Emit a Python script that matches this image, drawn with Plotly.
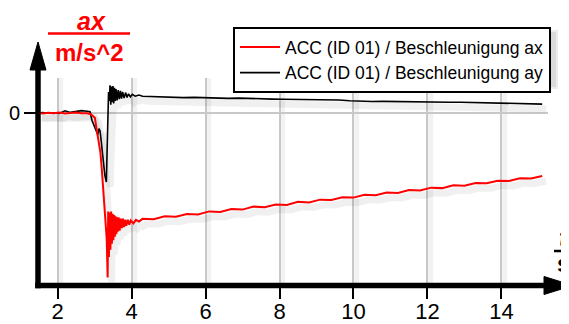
import plotly.graph_objects as go

# ---------------- data ----------------
t_ax = [1.47, 1.6, 1.75, 1.9, 2.05, 2.2, 2.35, 2.5, 2.65, 2.8, 2.9, 2.96, 3.01, 3.07,
        3.12, 3.16, 3.20, 3.24, 3.27, 3.30, 3.33, 3.355, 3.37, 3.39, 3.41, 3.43, 3.45,
        3.47, 3.49, 3.51, 3.53, 3.55, 3.57, 3.59, 3.61, 3.63, 3.65, 3.68, 3.71, 3.74,
        3.77, 3.80, 3.83, 3.86, 3.90, 3.94, 3.98, 4.05, 4.12, 4.2,
        4.3, 4.6, 4.9, 5.2, 5.5, 5.8, 6.1, 6.4, 6.7, 7.0, 7.3, 7.6, 7.9, 8.2, 8.5, 8.8,
        9.1, 9.4, 9.7, 10.0, 10.3, 10.6, 10.9, 11.2, 11.5, 11.8, 12.1, 12.4, 12.7, 13.0,
        13.3, 13.6, 13.9, 14.2, 14.5, 14.8, 15.1]
ax_vals = [0.02, -0.05, 0.03, -0.02, 0.05, -0.04, 0.0, 0.04, -0.03, -0.02, -0.1, -0.25,
           -0.4, -1.6, -2.4, -3.3, -4.8, -6.4, -7.4, -8.5, -10.5, -13.7, -8.2, -12.0, -8.3,
           -11.4, -8.2, -10.9, -8.4, -10.6, -8.5, -10.3, -8.6, -10.1, -8.7, -9.9, -8.7,
           -9.8, -8.8, -9.6, -8.8, -9.5, -8.9, -9.4, -8.9, -9.3, -8.95, -9.2, -8.9, -9.05,
           -8.82, -8.86, -8.60, -8.64, -8.41, -8.45, -8.20, -8.25, -8.00, -8.05, -7.80,
           -7.86, -7.62, -7.66, -7.40, -7.45, -7.22, -7.25, -7.02, -7.05, -6.82, -6.86,
           -6.62, -6.66, -6.42, -6.45, -6.22, -6.26, -6.03, -6.07, -5.83, -5.86, -5.64,
           -5.66, -5.43, -5.46, -5.25]

t_ay = [1.47, 1.6, 1.75, 1.9, 2.05, 2.2, 2.35, 2.5, 2.65, 2.8, 2.88, 2.93, 3.01, 3.06,
        3.09, 3.12, 3.15, 3.18, 3.23, 3.28, 3.32, 3.34, 3.36, 3.38, 3.40, 3.42, 3.44,
        3.46, 3.48, 3.50, 3.52, 3.54, 3.56, 3.58, 3.61, 3.64, 3.67, 3.70, 3.73, 3.76,
        3.80, 3.84, 3.88, 3.92, 3.97, 4.02, 4.1, 4.2, 4.3,
        4.5, 4.8, 5.1, 5.4, 5.7, 6.0, 6.3, 6.6, 6.9, 7.2, 7.5, 7.8, 8.1, 8.4, 8.7, 9.0,
        9.3, 9.6, 9.9, 10.2, 10.5, 10.8, 11.1, 11.4, 11.7, 12.0, 12.3, 12.6, 12.9, 13.2,
        13.5, 13.8, 14.1, 14.4, 14.7, 15.1]
ay_vals = [0.0, 0.03, -0.02, 0.02, -0.03, 0.18, 0.05, 0.12, 0.2, 0.15, 0.1, -0.6, -1.25,
           -1.6, -1.8, -1.3, -1.5, -2.3, -3.9, -5.2, -5.75, -3.0, -0.6, 1.75, 1.0, 2.3,
           0.7, 2.2, 0.9, 2.25, 0.8, 2.1, 1.0, 2.0, 1.05, 1.9, 1.15, 1.85, 1.2, 1.75, 1.25,
           1.7, 1.3, 1.6, 1.35, 1.55, 1.4, 1.5, 1.4,
           1.38, 1.32, 1.35, 1.28, 1.3, 1.26, 1.28, 1.22, 1.24, 1.2, 1.18, 1.16, 1.15,
           1.14, 1.12, 1.12, 1.1, 1.08, 1.02, 0.98, 0.96, 0.97, 0.95, 0.94, 0.93, 0.93,
           0.92, 0.9, 0.9, 0.88, 0.87, 0.84, 0.82, 0.8, 0.78, 0.74]

series_names = ["ACC (ID 01) / Beschleunigung ax", "ACC (ID 01) / Beschleunigung ay"]
x_ticks = [2, 4, 6, 8, 10, 12, 14]
x_tick_labels = ["2", "4", "6", "8", "10", "12", "14"]
y_ticks = [0]
y_tick_labels = ["0"]
y_title = ["ax", "m/s^2"]
x_title = ["t", "s"]

# ---------------- layout helpers ----------------
W, H = 569, 324
OFF = 8                      # the page body margin shifts the figure by 8 px
L, R, T, B = 30, 29, 70, 47  # plot area (figure pixels)
PW, PH = W - L - R, H - T - B
X_RANGE = [1.473, 15.257]
Y_RANGE = [-14.333, 2.917]
FONT = "Liberation Sans, Arial, sans-serif"


def px(x):  # window pixel -> paper fraction
    return (x - OFF - L) / PW


def py(y):
    return (H - B - (y - OFF)) / PH


# shadow offset in data units (4 px right, 5 px down)
DX = 4 * (X_RANGE[1] - X_RANGE[0]) / PW
DY = 5 * (Y_RANGE[1] - Y_RANGE[0]) / PH

fig = go.Figure()
# soft drop shadows of the curves
for tt, vv in ((t_ay, ay_vals), (t_ax, ax_vals)):
    fig.add_trace(go.Scatter(x=[v + DX for v in tt], y=[v - DY for v in vv], mode="lines",
                             showlegend=False, hoverinfo="skip",
                             line=dict(color="rgba(0,0,0,0.06)", width=7)))
fig.add_trace(go.Scatter(x=t_ay, y=ay_vals, mode="lines", name=series_names[1],
                         line=dict(color="#000000", width=1.6)))
fig.add_trace(go.Scatter(x=t_ax, y=ax_vals, mode="lines", name=series_names[0],
                         line=dict(color="#ff0000", width=2)))

shapes = []
# soft shadows of the vertical grid lines
for xt in x_ticks:
    shapes.append(dict(type="line", xref="x", yref="paper", x0=xt + DX * 0.8, x1=xt + DX * 0.8,
                       y0=0, y1=1, layer="below",
                       line=dict(color="rgba(0,0,0,0.05)", width=5)))
# legend shadow
shapes.append(dict(type="rect", xref="paper", yref="paper", x0=px(235), x1=px(558),
                   y0=py(30), y1=py(89), fillcolor="rgba(0,0,0,0.07)", line=dict(width=0),
                   layer="above"))
shapes.append(dict(type="rect", xref="paper", yref="paper", x0=px(237), x1=px(556),
                   y0=py(32), y1=py(87), fillcolor="rgba(0,0,0,0.08)", line=dict(width=0),
                   layer="above"))
# thick axis lines
shapes.append(dict(type="line", xref="paper", yref="paper", x0=px(35.2), x1=px(548),
                   y0=py(285.5), y1=py(285.5), line=dict(color="black", width=5.5)))
shapes.append(dict(type="line", xref="paper", yref="paper", x0=px(38), x1=px(38),
                   y0=py(288.2), y1=py(66), line=dict(color="black", width=5.5)))
# arrow heads
shapes.append(dict(type="path", xref="paper", yref="paper",
                   path="M %f,%f L %f,%f L %f,%f Z" % (px(544), py(276.5), px(573), py(285.5),
                                                     px(544), py(294.5)),
                   fillcolor="black", line=dict(color="black", width=1)))
shapes.append(dict(type="path", xref="paper", yref="paper",
                   path="M %f,%f L %f,%f L %f,%f Z" % (px(30), py(70), px(38), py(42),
                                                     px(46), py(70)),
                   fillcolor="black", line=dict(color="black", width=1)))
# fraction bars of the axis titles
shapes.append(dict(type="line", xref="paper", yref="paper", x0=px(48), x1=px(130),
                   y0=py(33.5), y1=py(33.5), line=dict(color="#ff0000", width=2.5)))
shapes.append(dict(type="line", xref="paper", yref="paper", x0=px(554), x1=px(585),
                   y0=py(251), y1=py(251), line=dict(color="black", width=2.5)))

annotations = [
    dict(text="<b><i>%s</i></b>" % y_title[0], xref="paper", yref="paper", x=px(91), y=py(21),
         showarrow=False, xanchor="center", yanchor="middle",
         font=dict(family=FONT, size=25, color="#ff0000")),
    dict(text="<b>%s</b>" % y_title[1], xref="paper", yref="paper", x=px(89), y=py(52),
         showarrow=False, xanchor="center", yanchor="middle",
         font=dict(family=FONT, size=24, color="#ff0000")),
    dict(text="<b><i>%s</i></b>" % x_title[0], xref="paper", yref="paper", x=px(557),
         y=py(238), showarrow=False, xanchor="left", yanchor="middle",
         font=dict(family=FONT, size=25, color="black")),
    dict(text="<b>%s</b>" % x_title[1], xref="paper", yref="paper", x=px(555), y=py(263),
         showarrow=False, xanchor="left", yanchor="middle",
         font=dict(family=FONT, size=24, color="black")),
]

fig.update_layout(
    template="none",
    width=W, height=H,
    margin=dict(l=L, r=R, t=T, b=B, pad=0, autoexpand=False),
    paper_bgcolor="white", plot_bgcolor="white",
    font=dict(family=FONT, size=20, color="black"),
    showlegend=True,
    legend=dict(x=px(233), y=py(27), xanchor="left", yanchor="top",
                bgcolor="white", bordercolor="black", borderwidth=2,
                font=dict(family=FONT, size=17.5, color="black"),
                traceorder="reversed", itemwidth=40),
    xaxis=dict(range=X_RANGE, tickvals=x_ticks, ticktext=x_tick_labels, automargin=False,
               showgrid=True, gridcolor="#c8c8c8", gridwidth=2, zeroline=False,
               showline=False, ticks="outside", ticklen=13, tickwidth=2,
               tickcolor="black", tickfont=dict(size=22), ticklabelstandoff=-6),
    yaxis=dict(range=Y_RANGE, tickvals=y_ticks, ticktext=y_tick_labels, automargin=False,
               showgrid=False, zeroline=True, zerolinecolor="#c8c8c8", zerolinewidth=2,
               showline=False, ticks="outside", ticklen=13, tickwidth=2,
               tickcolor="black", tickfont=dict(size=20)),
    shapes=shapes,
    annotations=annotations,
)

fig.write_html("out.html")
